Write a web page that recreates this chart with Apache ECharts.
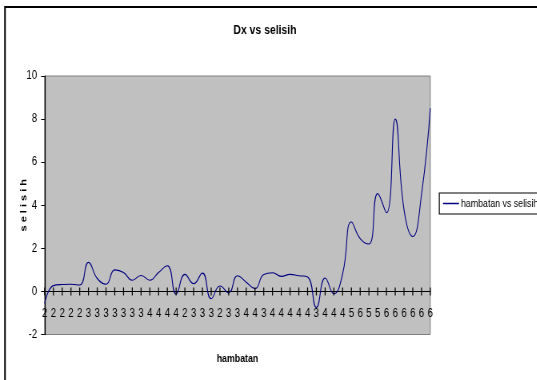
<!DOCTYPE html>
<html>
<head>
<meta charset="utf-8">
<script src="https://cdn.jsdelivr.net/npm/echarts@6/dist/echarts.min.js"></script>
<style>
html,body{margin:0;padding:0;background:#fff;overflow:hidden;}
#wrap{width:537px;height:380px;overflow:hidden;position:relative;}
#chart{width:671.25px;height:380px;transform:scaleX(0.8);transform-origin:0 0;position:absolute;left:0;top:0;}
</style>
</head>
<body>
<div id="wrap"><div id="chart"></div></div>
<script>
var titleText = 'Dx vs selisih';
var xName = 'hambatan';
var yName = 's e l i s i h';
var seriesName = 'hambatan vs selisih';
var categories = ['2','2','2','2','2','3','3','3','3','3','3','3','4','4','4','4','2','3','3','3','2','3','3','4','4','3','4','4','4','4','4','3','4','4','4','5','6','5','5','6','6','6','6','6','6'];
var values = [-0.55,0.27,0.32,0.33,0.3,1.35,0.6,0.33,1.0,0.88,0.52,0.74,0.52,0.88,1.19,-0.12,0.79,0.36,0.85,-0.34,0.25,-0.06,0.73,0.43,0.13,0.79,0.87,0.7,0.79,0.73,0.67,-0.75,0.62,-0.11,0.82,3.22,2.45,2.2,4.54,3.65,8.0,3.8,2.55,4.5,8.5];
var yMin = -2, yMax = 10, yStep = 2;

var SX = 0.8;                 // horizontal squeeze of the whole picture
function X(v){ return v / SX; } // screen x -> canvas x
var FONT = '"Liberation Sans", Arial, Helvetica, sans-serif';
var gridTop = 76, gridBottomY = 334.5;
var plotH = gridBottomY - gridTop;
var zeroOffset = -plotH * (0 - yMin) / (yMax - yMin); // lift x axis to value 0

var chart = echarts.init(document.getElementById('chart'), null, {renderer:'canvas'});
chart.setOption({
  animation:false,
  backgroundColor:'#ffffff',
  title:{text:titleText,left:X(265),top:24,textAlign:'center',padding:0,
    textStyle:{fontFamily:FONT,fontSize:13,fontWeight:'bold',color:'#000'}},
  legend:{show:true,left:X(439.3),top:193,orient:'vertical',
    borderColor:'#000',borderWidth:1.2,padding:[5,20,5,X(3.7)],
    itemWidth:X(16),itemHeight:1.5,itemGap:0,icon:'rect',
    textStyle:{fontFamily:FONT,fontSize:11,color:'#000',padding:[0,0,0,-2.5]},
    data:[{name:seriesName}]},
  grid:{left:X(44.67),right:671.25-X(430.5),top:gridTop,bottom:380-gridBottomY,
    outerBoundsMode:'none',containLabel:false,show:true,
    backgroundColor:'#c0c0c0',borderColor:'#808080',borderWidth:1},
  xAxis:{
    type:'category',data:categories,boundaryGap:false,position:'bottom',offset:zeroOffset,
    name:xName,nameLocation:'middle',nameGap:62,nameMoveOverlap:false,
    nameTextStyle:{fontFamily:FONT,fontSize:11,fontWeight:'bold',color:'#000',verticalAlign:'top'},
    axisLine:{onZero:false,lineStyle:{color:'#000',width:1}},
    axisTick:{show:false},
    axisLabel:{interval:0,margin:16,fontFamily:FONT,fontSize:12,color:'#000'},
    splitLine:{show:false}
  },
  yAxis:{type:'value',min:yMin,max:yMax,interval:yStep,
    name:yName,nameLocation:'middle',nameGap:X(21),nameRotate:90,nameMoveOverlap:false,
    nameTextStyle:{fontFamily:FONT,fontSize:11,fontWeight:'bold',color:'#000',verticalAlign:'middle'},
    axisLine:{show:true,onZero:false,lineStyle:{color:'#000',width:1.25}},
    axisTick:{show:true,length:X(3.5),lineStyle:{color:'#000',width:1}},
    axisLabel:{margin:X(7.5),fontFamily:FONT,fontSize:12,color:'#000'},
    splitLine:{show:false}},
  series:[{name:seriesName,type:'line',data:values,smooth:0.5,
    showSymbol:false,symbol:'none',z:3,
    lineStyle:{color:'#000080',width:1.1},itemStyle:{color:'#000080'}},
   {name:'ticks',type:'custom',silent:true,clip:false,z:4,
    data:categories.map(function(c,i){return [i,0];}),
    renderItem:function(params,api){
      var p = api.coord([api.value(0), api.value(1)]);
      return {type:'line',shape:{x1:p[0],y1:p[1]-4,x2:p[0],y2:p[1]+4},
        style:{stroke:'#000',lineWidth:1.25}};
    }}],
  graphic:[{type:'rect',silent:true,z:10,shape:{x:X(5),y:7,width:800,height:400},
    style:{fill:null,stroke:'#000',lineWidth:2}}]
});
</script>
</body>
</html>
